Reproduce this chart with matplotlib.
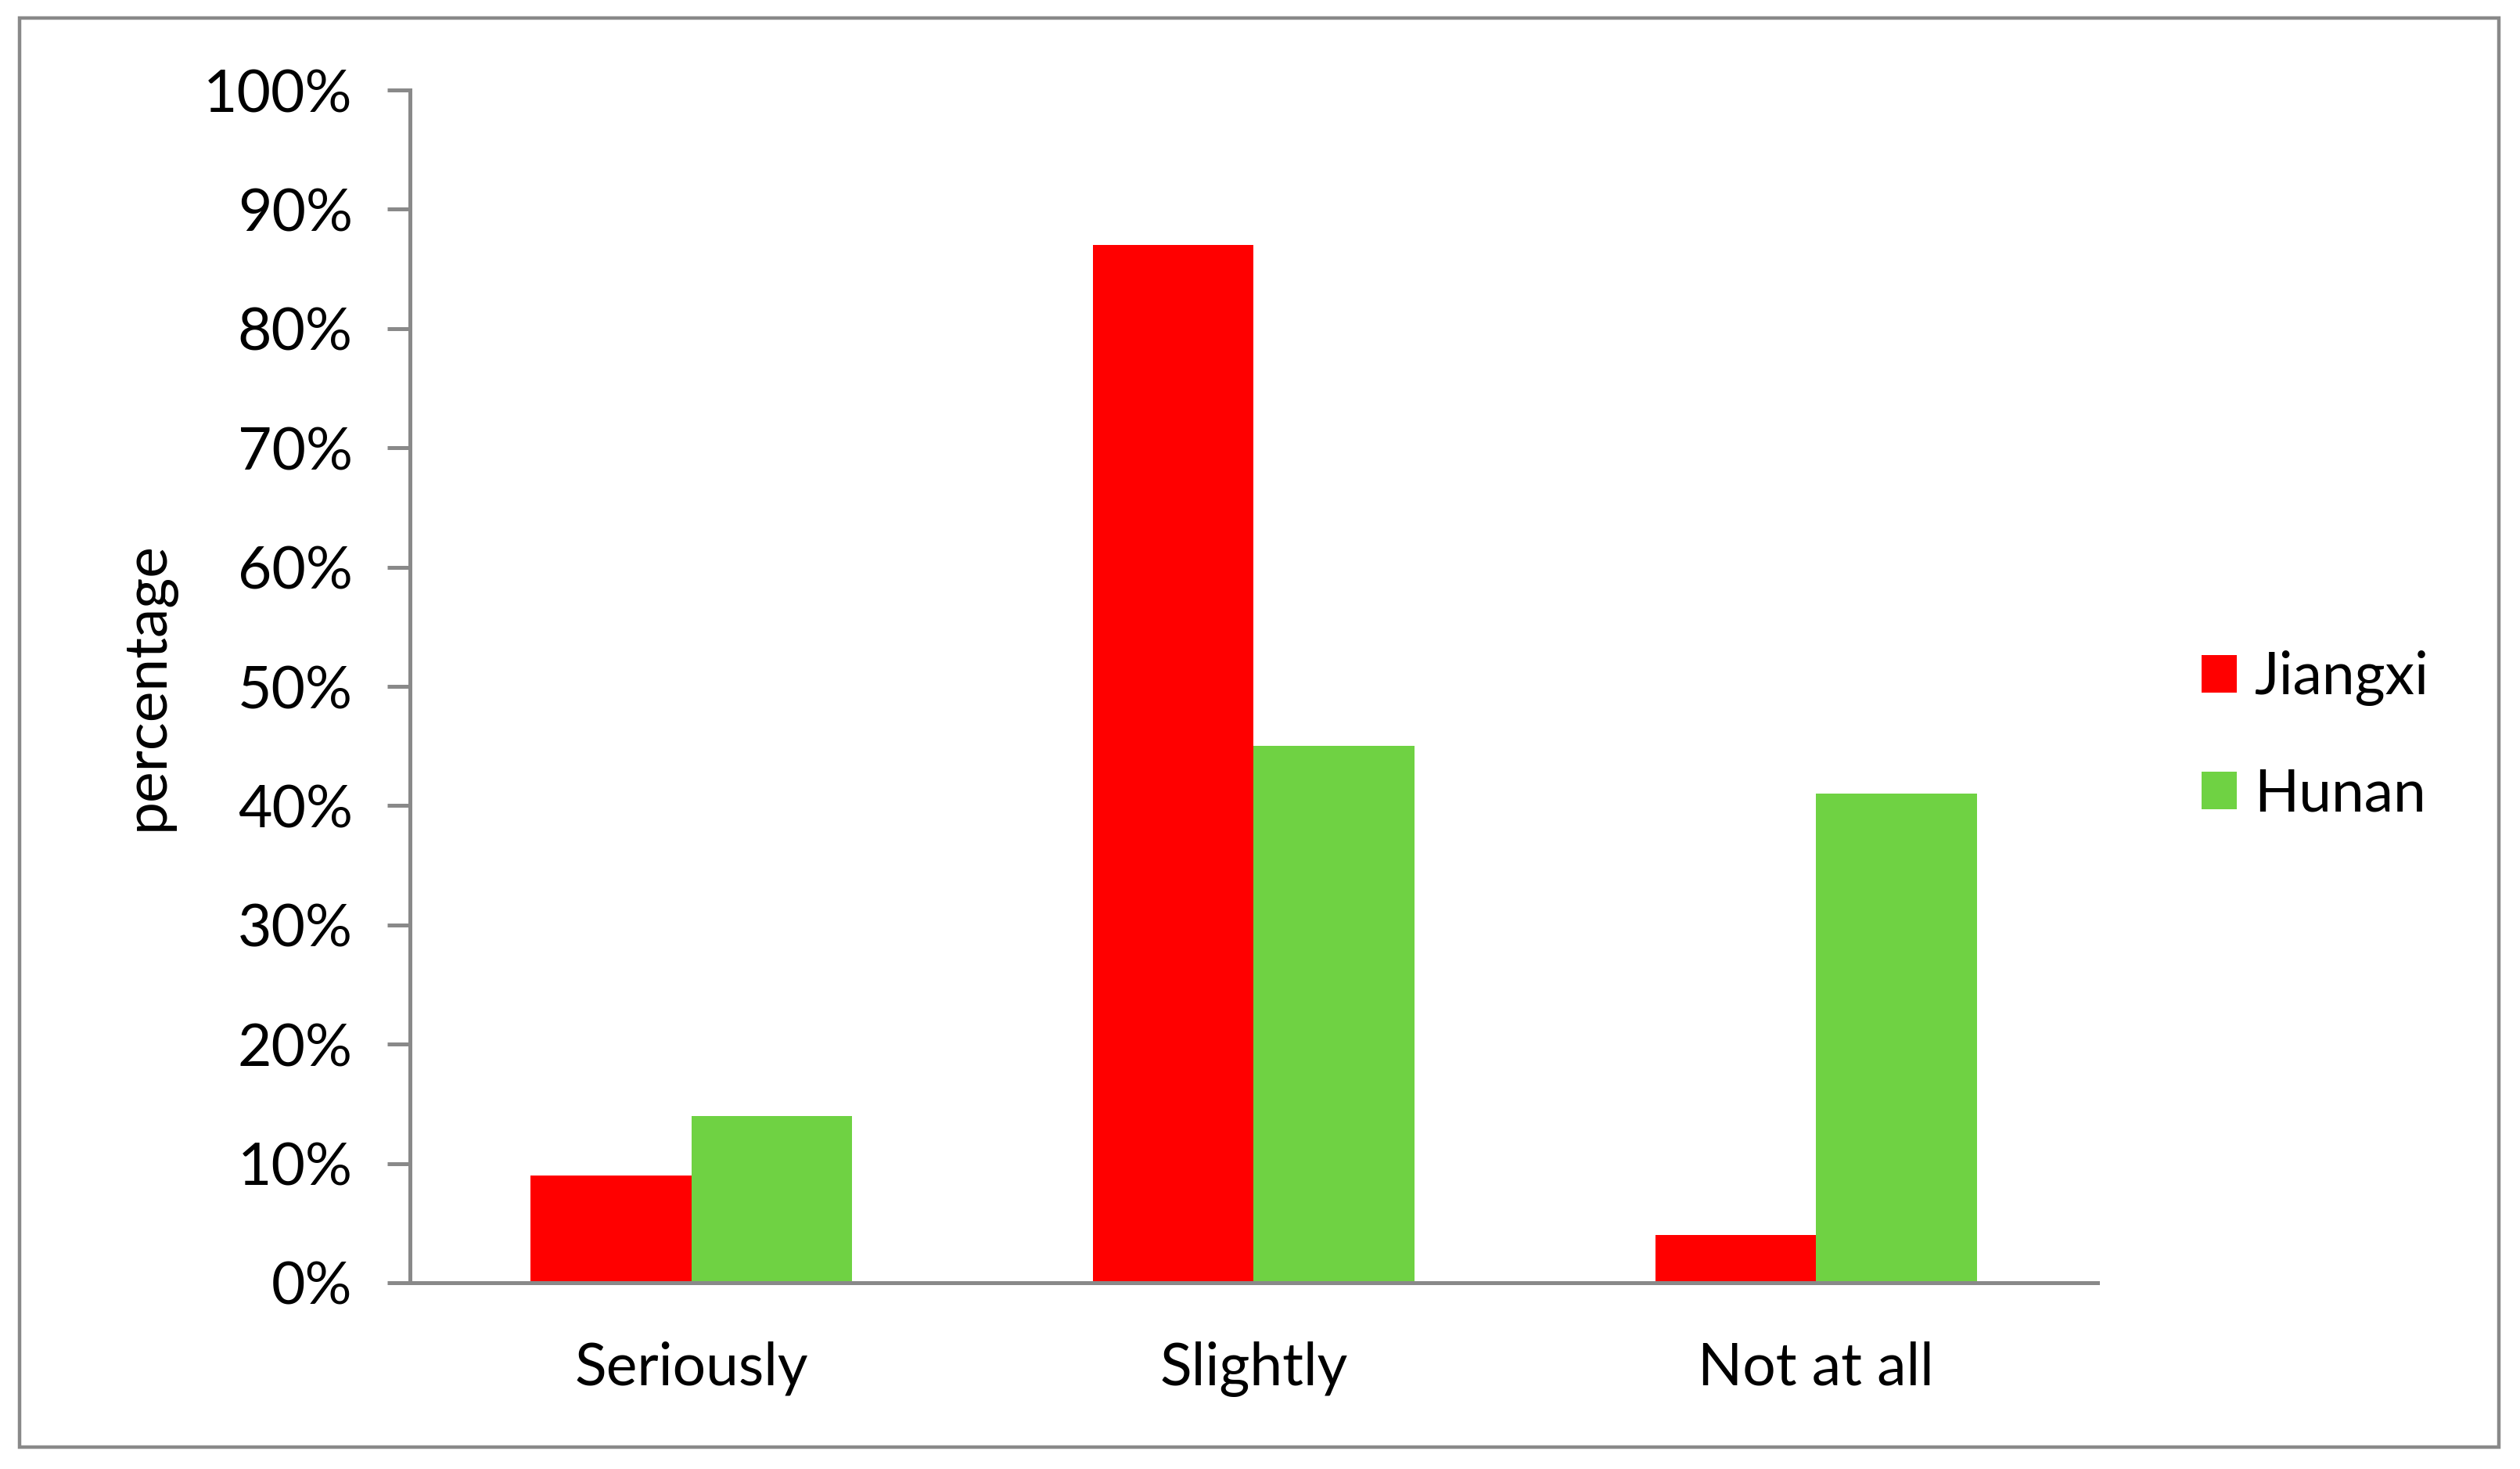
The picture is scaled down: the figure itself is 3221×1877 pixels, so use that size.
"""
Perceived soil problem by province – grouped bar chart
Saves out.png (3221 x 1877 px)
"""

import numpy as np
import matplotlib
matplotlib.use("Agg")
import matplotlib.pyplot as plt
from matplotlib.patches import Rectangle
from matplotlib.ticker import PercentFormatter

# ─────────────────────────────────────────────
# 0.  DATA
# ─────────────────────────────────────────────

CATEGORIES = ["Seriously", "Slightly", "Not at all"]
SERIES     = ["Jiangxi", "Hunan"]
JIANGXI    = [0.09, 0.87, 0.04]
HUNAN      = [0.14, 0.45, 0.41]
Y_TICKS    = [0.0, 0.1, 0.2, 0.3, 0.4, 0.5, 0.6, 0.7, 0.8, 0.9, 1.0]

# ─────────────────────────────────────────────
# 1.  STYLE
# ─────────────────────────────────────────────

RED   = "#FF0000"
GREEN = "#6FD243"
GREY  = "#898989"
FS    = 27
DPI   = 200

plt.rcParams["font.family"] = ["Lato", "DejaVu Sans"]

fig = plt.figure(figsize=(3221 / DPI, 1877 / DPI), dpi=DPI, facecolor="white")
ax = fig.add_axes([0.1627, 0.1268, 0.6696, 0.8119])

# outer chart-area frame
fig.patches.append(Rectangle((0.0078, 0.0149), 0.9839, 0.9728,
                             transform=fig.transFigure, fill=False,
                             edgecolor=GREY, linewidth=1.6))

# ─────────────────────────────────────────────
# 2.  BARS
# ─────────────────────────────────────────────

x = np.arange(len(CATEGORIES))
w = 1 / 3.5   # Excel-style gap width 150 %
ax.bar(x - w / 2, JIANGXI, width=w, color=RED, label=SERIES[0], linewidth=0)
ax.bar(x + w / 2, HUNAN, width=w, color=GREEN, label=SERIES[1], linewidth=0)

ax.set_xlim(-0.5, len(CATEGORIES) - 0.5)
ax.set_ylim(0, 1)
ax.set_yticks(Y_TICKS)
ax.yaxis.set_major_formatter(PercentFormatter(1.0, decimals=0))
ax.set_xticks(x)
ax.set_xticklabels(CATEGORIES)

for side in ["top", "right"]:
    ax.spines[side].set_visible(False)
for side in ["left", "bottom"]:
    ax.spines[side].set_color(GREY)
    ax.spines[side].set_linewidth(1.8)

ax.tick_params(axis="y", direction="out", length=10.4, width=1.8,
               color=GREY, labelsize=FS, pad=16)
ax.tick_params(axis="x", length=0, labelsize=FS, pad=27)
ax.set_ylabel("percentage", fontsize=FS, labelpad=13)

# ─────────────────────────────────────────────
# 3.  LEGEND
# ─────────────────────────────────────────────

ax.legend(loc="center left", bbox_to_anchor=(0.8736, 0.499),
          bbox_transform=fig.transFigure, frameon=False, fontsize=FS,
          handlelength=0.6, handleheight=0.6, handletextpad=0.3,
          labelspacing=1.04, borderpad=0, borderaxespad=0)

fig.savefig("out.png", dpi=DPI, facecolor="white")
